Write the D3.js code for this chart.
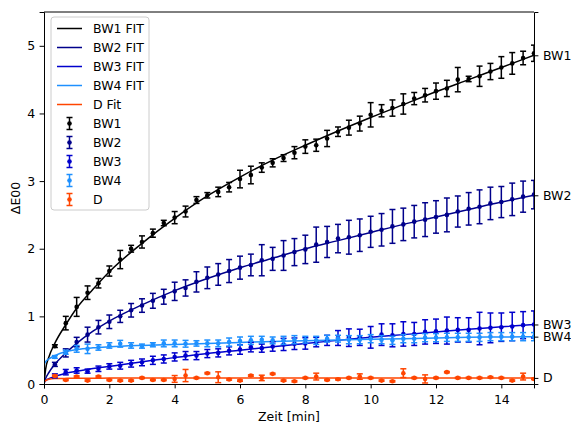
<!DOCTYPE html>
<html>
<head>
<meta charset="utf-8">
<script src="https://cdn.jsdelivr.net/npm/d3@7"></script>
<style>
  body { margin: 0; background: #fff; }
  text { font-family: "DejaVu Sans", sans-serif; }
</style>
</head>
<body>
<script>
// Messzeitpunkte (alle 20 s) und Messwerte
var time = d3.range(1, 46).map(function(k) { return k / 3; });

var bw1 = [0.56, 0.90, 1.14, 1.35, 1.49, 1.67, 1.84, 2.00, 2.10, 2.23, 2.38, 2.46,
           2.55, 2.72, 2.79, 2.84, 2.91, 3.03, 3.09, 3.20, 3.27, 3.34, 3.42, 3.51,
           3.53, 3.63, 3.73, 3.79, 3.85, 3.98, 4.04, 4.08, 4.14, 4.22, 4.27, 4.33,
           4.37, 4.50, 4.51, 4.55, 4.62, 4.68, 4.74, 4.82, 4.89];
var bw1Err = [0.02, 0.10, 0.14, 0.10, 0.07, 0.075, 0.135, 0.05, 0.09, 0.06, 0.04, 0.09,
              0.08, 0.05, 0.04, 0.07, 0.07, 0.13, 0.13, 0.07, 0.06, 0.05, 0.09, 0.10,
              0.09, 0.12, 0.07, 0.11, 0.11, 0.18, 0.09, 0.12, 0.15, 0.09, 0.10, 0.12,
              0.12, 0.18, 0.04, 0.15, 0.12, 0.16, 0.16, 0.10, 0.12];

var bw2 = [0.29, 0.46, 0.62, 0.73, 0.84, 0.92, 1.00, 1.09, 1.16, 1.23, 1.29, 1.37,
           1.42, 1.51, 1.57, 1.62, 1.67, 1.72, 1.76, 1.83, 1.85, 1.90, 1.95, 1.99,
           2.06, 2.10, 2.15, 2.17, 2.20, 2.25, 2.28, 2.33, 2.36, 2.40, 2.43, 2.47,
           2.50, 2.55, 2.59, 2.62, 2.67, 2.69, 2.73, 2.77, 2.80];
var bw2Err = [0.03, 0.06, 0.07, 0.11, 0.10, 0.10, 0.09, 0.10, 0.10, 0.11, 0.11, 0.135,
              0.12, 0.15, 0.16, 0.16, 0.17, 0.17, 0.16, 0.23, 0.17, 0.22, 0.20, 0.21,
              0.26, 0.23, 0.21, 0.25, 0.24, 0.23, 0.24, 0.25, 0.24, 0.24, 0.25, 0.24,
              0.25, 0.23, 0.24, 0.25, 0.24, 0.23, 0.24, 0.23, 0.21];

var bw3 = [0.12, 0.175, 0.20, 0.19, 0.225, 0.26, 0.27, 0.30, 0.32, 0.35, 0.37, 0.40,
           0.42, 0.42, 0.45, 0.46, 0.49, 0.51, 0.545, 0.53, 0.555, 0.585, 0.595, 0.60,
           0.62, 0.645, 0.68, 0.685, 0.69, 0.69, 0.73, 0.72, 0.74, 0.74, 0.77, 0.78,
           0.79, 0.80, 0.80, 0.82, 0.83, 0.84, 0.85, 0.87, 0.88];
var bw3Err = [0.03, 0.04, 0.04, 0.03, 0.04, 0.04, 0.05, 0.05, 0.05, 0.06, 0.06, 0.06,
              0.06, 0.06, 0.06, 0.06, 0.06, 0.07, 0.07, 0.06, 0.07, 0.09, 0.085, 0.085,
              0.07, 0.075, 0.11, 0.13, 0.12, 0.16, 0.16, 0.17, 0.18, 0.17, 0.18, 0.18,
              0.20, 0.18, 0.18, 0.24, 0.22, 0.21, 0.21, 0.20, 0.20];

var bw4 = [0.40, 0.47, 0.52, 0.52, 0.54, 0.57, 0.595, 0.57, 0.56, 0.58, 0.60, 0.60,
           0.595, 0.60, 0.60, 0.60, 0.62, 0.635, 0.645, 0.655, 0.645, 0.645, 0.655, 0.655,
           0.645, 0.67, 0.67, 0.655, 0.655, 0.67, 0.655, 0.645, 0.67, 0.67, 0.685, 0.685,
           0.69, 0.69, 0.69, 0.69, 0.70, 0.70, 0.70, 0.70, 0.70];
var bw4Err = [0.02, 0.03, 0.05, 0.07, 0.04, 0.04, 0.05, 0.04, 0.03, 0.03, 0.05, 0.05,
              0.05, 0.04, 0.05, 0.05, 0.06, 0.06, 0.06, 0.05, 0.05, 0.06, 0.06, 0.05,
              0.06, 0.05, 0.05, 0.06, 0.06, 0.06, 0.06, 0.06, 0.06, 0.06, 0.06, 0.06,
              0.06, 0.06, 0.06, 0.06, 0.06, 0.06, 0.06, 0.06, 0.06];

var dVal = [0.12, 0.06, 0.11, 0.05, 0.11, 0.06, 0.05, 0.05, 0.09, 0.06, 0.06, 0.075,
            0.125, 0.09, 0.16, 0.10, 0.067, 0.05, 0.125, 0.09, 0.15, 0.05, 0.04, 0.09,
            0.11, 0.06, 0.07, 0.09, 0.11, 0.09, 0.05, 0.04, 0.16, 0.09, 0.075, 0.09,
            0.175, 0.09, 0.09, 0.09, 0.10, 0.09, 0.05, 0.11, 0.075];
var dErr = [0.01, 0.01, 0.01, 0.01, 0.01, 0.01, 0.01, 0.01, 0.01, 0.01, 0.01, 0.05,
            0.09, 0.01, 0.01, 0.08, 0.01, 0.01, 0.01, 0.04, 0.01, 0.01, 0.01, 0.01,
            0.05, 0.01, 0.01, 0.01, 0.04, 0.01, 0.01, 0.01, 0.065, 0.01, 0.06, 0.01,
            0.01, 0.01, 0.01, 0.01, 0.01, 0.01, 0.01, 0.05, 0.01];

// Fitkurven
var fitTime = [0, 0.05, 0.15, 0.33, 0.67, 1, 1.5, 2, 3, 4, 5, 6, 7, 8, 9, 10, 11, 12, 13, 14, 15];
var bw1Fit = [0, 0.22, 0.40, 0.60, 0.88, 1.12, 1.40, 1.66, 2.08, 2.45, 2.78, 3.06, 3.31, 3.53, 3.74, 3.94, 4.13, 4.32, 4.50, 4.68, 4.86];
var bw2Fit = [0, 0.08, 0.17, 0.29, 0.46, 0.60, 0.78, 0.93, 1.17, 1.38, 1.56, 1.72, 1.86, 2.00, 2.12, 2.24, 2.36, 2.47, 2.58, 2.69, 2.79];
var bw3Fit = [0.02, 0.05, 0.08, 0.11, 0.16, 0.19, 0.23, 0.26, 0.33, 0.39, 0.45, 0.50, 0.55, 0.60, 0.645, 0.69, 0.73, 0.77, 0.81, 0.845, 0.88];
var bw4Fit = [0.28, 0.33, 0.37, 0.42, 0.48, 0.51, 0.535, 0.55, 0.57, 0.585, 0.60, 0.615, 0.63, 0.64, 0.65, 0.66, 0.67, 0.68, 0.69, 0.695, 0.70];
var dFit = [0.03, 0.05, 0.07, 0.08, 0.083, 0.085, 0.086, 0.087, 0.087, 0.088, 0.088, 0.088, 0.089, 0.089, 0.089, 0.09, 0.09, 0.09, 0.09, 0.09, 0.09];

var names = ["BW1", "BW2", "BW3", "BW4", "D"];
var fitNames = ["BW1 FIT", "BW2 FIT", "BW3 FIT", "BW4 FIT", "D Fit"];
var colors = ["#000000", "#00008b", "#0000cd", "#1e90ff", "#ff4500"];
var xTicks = [0, 2, 4, 6, 8, 10, 12, 14];
var yTicks = [0, 1, 2, 3, 4, 5];

var values = [bw1, bw2, bw3, bw4, dVal];
var errors = [bw1Err, bw2Err, bw3Err, bw4Err, dErr];
var fits = [bw1Fit, bw2Fit, bw3Fit, bw4Fit, dFit];

// Layout
var svgWidth = 571, svgHeight = 423;
var margin = { top: 12, right: 37, bottom: 39, left: 44 };
var width = svgWidth - margin.left - margin.right;
var height = svgHeight - margin.top - margin.bottom;

var svg = d3.select("body").append("svg")
  .attr("width", svgWidth)
  .attr("height", svgHeight);

var chart = svg.append("g")
  .attr("transform", `translate(${margin.left}, ${margin.top})`);

var x = d3.scaleLinear().domain([0, 15]).range([0, width]);
var y = d3.scaleLinear().domain([0, 5.5]).range([height, 0]);

chart.append("clipPath").attr("id", "plot")
  .append("rect").attr("width", width).attr("height", height);

var plot = chart.append("g").attr("clip-path", "url(#plot)");

// Fitkurven
var line = d3.line()
  .x(function(d, i) { return x(fitTime[i]); })
  .y(function(d) { return y(d); })
  .curve(d3.curveMonotoneX);

fits.forEach(function(f, s) {
  plot.append("path")
    .attr("d", line(f))
    .attr("fill", "none")
    .attr("stroke", colors[s])
    .attr("stroke-width", 1.5);
});

// Fehlerbalken und Messpunkte
values.forEach(function(vals, s) {
  var g = plot.append("g").attr("stroke", colors[s]).attr("fill", colors[s]);
  var pts = g.selectAll("g").data(vals).enter().append("g");
  pts.append("line")
    .attr("x1", function(d, i) { return x(time[i]); })
    .attr("x2", function(d, i) { return x(time[i]); })
    .attr("y1", function(d, i) { return y(d - errors[s][i]); })
    .attr("y2", function(d, i) { return y(d + errors[s][i]); })
    .attr("stroke-width", 1.5);
  [-1, 1].forEach(function(sign) {
    pts.append("line")
      .attr("x1", function(d, i) { return x(time[i]) - 3; })
      .attr("x2", function(d, i) { return x(time[i]) + 3; })
      .attr("y1", function(d, i) { return y(d + sign * errors[s][i]); })
      .attr("y2", function(d, i) { return y(d + sign * errors[s][i]); })
      .attr("stroke-width", 1.5);
  });
  pts.append("circle")
    .attr("cx", function(d, i) { return x(time[i]); })
    .attr("cy", function(d) { return y(d); })
    .attr("r", 2.3)
    .attr("stroke", "none");
});

// Achsen
var xAxis = chart.append("g")
  .attr("transform", `translate(0, ${height})`)
  .call(d3.axisBottom(x).tickValues(xTicks).tickSize(4.4).tickPadding(7));
var yAxis = chart.append("g")
  .call(d3.axisLeft(y).tickValues(yTicks).tickFormat(d3.format("d")).tickSize(4.4).tickPadding(4.5));
var rightAxis = chart.append("g")
  .attr("transform", `translate(${width}, 0)`)
  .call(d3.axisRight(y).tickValues(fits.map(function(f) { return f[f.length - 1]; }))
    .tickFormat(function(d, i) { return names[i]; }).tickSize(4.4).tickPadding(4.5));
chart.append("line").attr("x1", 0).attr("x2", width).attr("y1", 0).attr("y2", 0)
  .attr("stroke", "#000").attr("stroke-width", 1);

[xAxis, yAxis, rightAxis].forEach(function(a) {
  a.selectAll("text").style("font-size", "12.5px").attr("fill", "#000")
    .style("font-family", "DejaVu Sans");
  a.selectAll("path").attr("stroke-width", 1);
});

chart.append("text")
  .attr("x", width / 2)
  .attr("y", height + 37)
  .attr("text-anchor", "middle")
  .style("font-size", "12.5px")
  .text("Zeit [min]");

svg.append("text")
  .attr("transform", `translate(20, ${margin.top + height / 2}) rotate(-90)`)
  .attr("text-anchor", "middle")
  .style("font-size", "12.5px")
  .text("ΔE00");

// Legende
var legend = svg.append("g");
legend.append("rect")
  .attr("x", 51).attr("y", 17).attr("width", 98).attr("height", 193)
  .attr("rx", 3)
  .attr("fill", "#fff").attr("fill-opacity", 0.8)
  .attr("stroke", "#cccccc").attr("stroke-width", 1);

var rowY = function(i) { return 28.5 + 19 * i; };

fitNames.forEach(function(n, i) {
  legend.append("line")
    .attr("x1", 57).attr("x2", 82).attr("y1", rowY(i)).attr("y2", rowY(i))
    .attr("stroke", colors[i]).attr("stroke-width", 1.5);
  legend.append("text")
    .attr("x", 93).attr("y", rowY(i)).attr("dy", "0.36em")
    .style("font-size", "12.5px").text(n);
});

names.forEach(function(n, i) {
  var cy = rowY(i + 5);
  var g = legend.append("g").attr("stroke", colors[i]).attr("fill", colors[i]);
  g.append("line").attr("x1", 69.5).attr("x2", 69.5).attr("y1", cy - 6).attr("y2", cy + 6).attr("stroke-width", 1.5);
  g.append("line").attr("x1", 66.5).attr("x2", 72.5).attr("y1", cy - 6).attr("y2", cy - 6).attr("stroke-width", 1.5);
  g.append("line").attr("x1", 66.5).attr("x2", 72.5).attr("y1", cy + 6).attr("y2", cy + 6).attr("stroke-width", 1.5);
  g.append("circle").attr("cx", 69.5).attr("cy", cy).attr("r", 2.3).attr("stroke", "none");
  legend.append("text")
    .attr("x", 93).attr("y", cy).attr("dy", "0.36em")
    .style("font-size", "12.5px").text(n);
});
</script>
</body>
</html>
